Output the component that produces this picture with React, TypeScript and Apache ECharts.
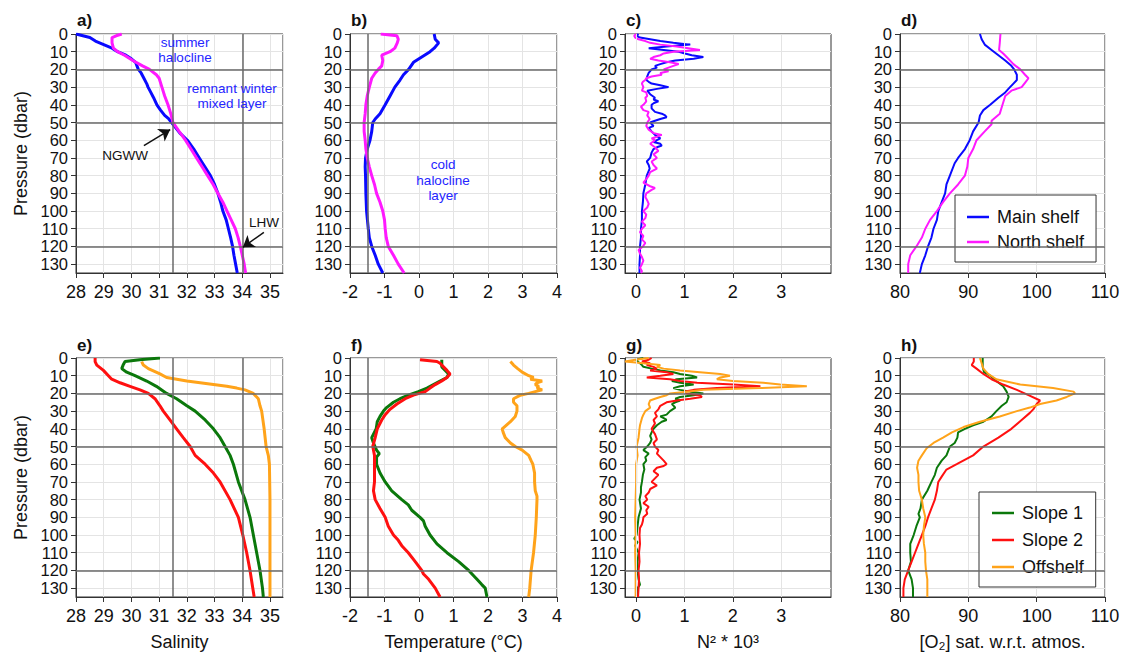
import React, { useEffect, useRef } from 'react';
import * as echarts from 'echarts';

type Pt = [number, number]; // [value, pressure]

// ---------- Top row: Main shelf / North shelf ----------
const salMain: Pt[] = [[28.0,0],[28.5,2],[28.7,4],[29.0,6],[29.3,8],[29.5,10],[29.8,12],[30.0,14],[30.15,16],[30.2,18],[30.25,20],[30.35,22],[30.45,25],[30.55,28],[30.6,30],[30.7,33],[30.8,36],[30.92,40],[31.05,43],[31.2,46],[31.35,48],[31.45,50],[31.6,53],[31.75,56],[32.02,60],[32.25,65],[32.45,70],[32.65,75],[32.85,80],[33.0,85],[33.12,90],[33.22,95],[33.3,100],[33.42,105],[33.5,110],[33.58,115],[33.65,120],[33.7,125],[33.76,130],[33.82,135]];
const salNorth: Pt[] = [[29.65,0],[29.45,1],[29.3,2],[29.3,5],[29.35,8],[29.5,10],[29.75,12],[30.05,15],[30.4,18],[30.65,20],[30.9,23],[31.0,25],[31.1,30],[31.2,35],[31.32,40],[31.42,45],[31.5,50],[31.72,55],[31.95,60],[32.15,65],[32.35,70],[32.55,75],[32.75,80],[32.95,85],[33.12,90],[33.3,95],[33.45,100],[33.6,105],[33.75,110],[33.85,115],[33.93,120],[34.0,125],[34.07,130],[34.12,135]];

const tempMain: Pt[] = [[0.44,0],[0.47,3],[0.57,5],[0.44,8],[0.32,10],[0.08,13],[-0.16,16],[-0.3,20],[-0.45,23],[-0.55,26],[-0.7,30],[-0.84,35],[-0.98,40],[-1.13,45],[-1.27,48],[-1.34,50],[-1.37,55],[-1.42,60],[-1.5,65],[-1.55,70],[-1.56,75],[-1.55,80],[-1.54,90],[-1.52,100],[-1.47,110],[-1.44,115],[-1.37,120],[-1.27,125],[-1.18,130],[-1.05,135]];
const tempNorth: Pt[] = [[-1.11,0],[-0.64,1],[-0.6,3],[-0.63,5],[-0.7,8],[-0.84,10],[-1.08,12],[-1.05,15],[-1.08,18],[-1.18,20],[-1.27,22],[-1.37,25],[-1.44,30],[-1.5,35],[-1.54,40],[-1.56,45],[-1.59,50],[-1.59,55],[-1.56,60],[-1.54,65],[-1.5,70],[-1.44,75],[-1.37,80],[-1.29,85],[-1.23,90],[-1.13,95],[-1.05,100],[-1.0,105],[-0.98,110],[-0.95,115],[-0.89,120],[-0.74,125],[-0.6,130],[-0.43,135]];

const n2Main: Pt[] = [[0.05,0],[0.01,1],[0.08,2],[0.29,3],[0.5,4],[0.77,5],[1.12,6],[0.63,7],[0.26,8],[0.57,9],[0.88,10],[1.01,11],[1.15,12],[1.39,13],[1.19,14],[0.81,15],[0.63,16],[0.5,17],[0.39,18],[0.43,19],[0.32,20],[0.26,22],[0.23,24],[0.21,26],[0.26,27],[0.32,28],[0.5,29],[0.67,30],[0.43,31],[0.23,32],[0.29,34],[0.39,36],[0.36,37],[0.46,38],[0.37,39],[0.32,40],[0.32,42],[0.39,44],[0.53,45],[0.6,46],[0.63,47],[0.5,48],[0.39,49],[0.29,50],[0.36,52],[0.26,53],[0.32,55],[0.39,57],[0.5,59],[0.43,60],[0.36,61],[0.5,62],[0.53,63],[0.43,64],[0.36,65],[0.32,67],[0.29,70],[0.22,72],[0.26,74],[0.28,76],[0.22,80],[0.19,85],[0.15,90],[0.14,95],[0.12,100],[0.12,105],[0.1,110],[0.1,115],[0.08,120],[0.08,125],[0.07,130],[0.07,135]];
const n2North: Pt[] = [[0.0,0],[-0.04,1],[-0.02,2],[0.05,3],[0.19,4],[0.29,5],[0.5,6],[0.84,7],[1.08,8],[1.32,9],[0.77,10],[0.57,11],[0.5,12],[0.36,13],[0.29,14],[0.46,15],[0.7,16],[0.88,17],[0.77,18],[0.67,19],[0.57,20],[0.67,21],[0.5,22],[0.53,23],[0.32,24],[0.21,25],[0.19,26],[0.14,27],[0.12,28],[0.15,30],[0.12,32],[0.21,33],[0.23,35],[0.19,36],[0.21,38],[0.15,40],[0.1,41],[0.15,43],[0.26,44],[0.23,46],[0.28,48],[0.23,50],[0.21,52],[0.26,54],[0.36,56],[0.53,57],[0.43,58],[0.32,59],[0.39,60],[0.29,62],[0.39,64],[0.46,66],[0.36,68],[0.43,70],[0.32,72],[0.36,74],[0.43,76],[0.29,78],[0.26,80],[0.21,82],[0.15,84],[0.29,86],[0.39,87],[0.32,88],[0.21,90],[0.19,92],[0.23,94],[0.26,96],[0.23,98],[0.15,100],[0.21,102],[0.19,104],[0.12,106],[0.19,108],[0.12,110],[0.08,112],[0.15,114],[0.12,116],[0.19,118],[0.14,120],[0.05,122],[0.08,124],[0.12,126],[0.15,128],[0.12,130],[0.08,132],[0.12,134],[0.1,135]];

const o2Main: Pt[] = [[91.7,0],[91.95,3],[92.4,6],[93.4,9],[94.4,12],[95.4,15],[96.3,18],[96.7,20],[97.1,23],[97.1,26],[96.6,28],[96.1,30],[95.4,33],[94.4,36],[93.2,40],[92.2,43],[91.7,46],[91.5,50],[90.7,55],[90.2,60],[89.5,65],[88.5,70],[88.0,73],[87.3,80],[86.8,85],[86.6,90],[86.1,95],[85.6,100],[85.4,105],[84.9,110],[84.6,115],[84.1,120],[83.7,125],[83.2,130],[82.9,135]];
const o2North: Pt[] = [[94.7,0],[94.6,5],[94.5,9],[95.1,11],[95.85,14],[96.6,17],[97.6,20],[98.3,23],[98.8,25],[98.4,27],[97.8,30],[96.3,32],[95.4,35],[95.0,40],[94.6,45],[93.7,48],[93.4,49],[93.4,51],[92.4,55],[91.2,60],[90.7,65],[90.0,70],[89.85,75],[89.5,80],[88.5,85],[87.3,90],[86.3,95],[85.4,100],[84.4,105],[83.7,110],[83.2,115],[82.4,120],[81.5,125],[81.2,130],[81.2,135]];

// ---------- Bottom row: Slope 1 / Slope 2 / Offshelf ----------
const salS1: Pt[] = [[31.03,0],[30.3,1],[29.77,2],[29.7,4],[29.65,6],[29.83,8],[30.13,10],[30.55,13],[30.9,16],[31.27,20],[31.63,23],[32.0,27],[32.3,30],[32.66,35],[32.96,40],[33.2,45],[33.38,50],[33.56,55],[33.68,60],[33.86,70],[34.1,80],[34.28,90],[34.4,100],[34.52,110],[34.64,120],[34.73,130],[34.76,135]];
const salS2: Pt[] = [[28.69,0],[28.69,2],[28.75,4],[28.99,7],[29.17,10],[29.29,12],[29.59,14],[29.95,16],[30.31,18],[30.61,20],[30.85,23],[31.03,27],[31.15,30],[31.39,35],[31.63,40],[31.87,45],[32.12,50],[32.3,55],[32.66,60],[32.96,65],[33.2,70],[33.56,80],[33.86,90],[34.02,100],[34.16,110],[34.28,120],[34.38,130],[34.43,135]];
const salOff: Pt[] = [[30.37,2],[30.43,4],[30.61,6],[31.03,9],[31.27,11],[32.0,13],[32.96,15],[33.44,16],[33.8,17],[34.1,18],[34.4,20],[34.58,23],[34.64,27],[34.7,30],[34.79,40],[34.86,50],[34.94,55],[34.98,60],[35.0,80],[35.0,100],[35.0,135]];

const tempS1: Pt[] = [[0.66,1],[0.66,3],[0.66,5],[0.76,7],[0.86,9],[0.81,11],[0.61,13],[0.42,15],[0.23,17],[-0.02,19],[-0.31,21],[-0.55,23],[-0.74,25],[-0.94,28],[-1.03,30],[-1.13,33],[-1.21,36],[-1.24,40],[-1.32,43],[-1.37,45],[-1.32,48],[-1.23,52],[-1.15,54],[-1.23,56],[-1.23,60],[-1.13,65],[-0.98,70],[-0.79,75],[-0.5,80],[-0.31,83],[-0.21,86],[0.03,90],[0.13,92],[0.18,95],[0.32,100],[0.52,105],[0.81,110],[1.15,115],[1.44,120],[1.68,125],[1.82,128],[1.92,130],[1.97,135]];
const tempS2: Pt[] = [[0.03,1],[0.52,2],[0.61,3],[0.71,5],[0.81,7],[0.9,9],[0.81,11],[0.66,13],[0.47,15],[0.32,17],[0.18,19],[-0.16,21],[-0.4,23],[-0.64,26],[-0.84,29],[-0.98,32],[-1.08,35],[-1.21,40],[-1.27,45],[-1.34,50],[-1.29,55],[-1.29,60],[-1.29,70],[-1.32,75],[-1.27,80],[-1.13,85],[-0.98,90],[-0.89,95],[-0.74,100],[-0.6,103],[-0.5,106],[-0.31,110],[-0.11,115],[0.08,120],[0.13,122],[0.28,125],[0.47,130],[0.61,135]];
const tempOff: Pt[] = [[2.65,2],[2.74,4],[2.86,6],[2.99,8],[3.18,10],[3.32,11],[3.23,12],[3.57,13],[3.42,14],[3.37,15],[3.47,16],[3.42,17],[3.57,18],[3.37,19],[3.18,20],[2.94,21],[2.74,23],[2.74,25],[2.84,27],[2.84,30],[2.79,33],[2.65,36],[2.47,39],[2.41,40],[2.44,42],[2.5,45],[2.65,48],[2.79,50],[2.99,52],[3.18,55],[3.25,58],[3.3,60],[3.35,65],[3.35,70],[3.37,75],[3.42,78],[3.42,80],[3.4,90],[3.37,100],[3.32,110],[3.25,120],[3.21,130],[3.18,135]];

const n2S1: Pt[] = [[0.15,0],[0.0,1],[0.03,2],[0.08,3],[0.12,4],[0.15,5],[0.32,6],[0.5,7],[0.77,8],[0.91,9],[1.15,10],[1.26,11],[0.84,12],[0.74,13],[0.91,14],[1.19,15],[0.91,16],[0.77,17],[0.91,18],[1.12,19],[1.39,20],[1.19,21],[0.91,22],[0.81,23],[0.91,24],[0.81,25],[0.74,26],[0.81,28],[0.7,30],[0.63,32],[0.5,33],[0.57,34],[0.63,35],[0.53,36],[0.43,38],[0.36,40],[0.32,42],[0.29,44],[0.32,46],[0.29,48],[0.23,50],[0.15,52],[0.26,54],[0.19,56],[0.21,58],[0.15,60],[0.17,63],[0.14,66],[0.12,70],[0.1,73],[0.1,76],[0.07,80],[0.1,85],[0.05,90],[0.03,95],[0.01,100],[-0.04,102],[0.03,104],[-0.02,106],[0.05,110],[0.03,115],[0.03,120],[0.05,125],[0.08,128],[0.03,130],[0.03,135]];
const n2S2: Pt[] = [[0.32,0],[0.26,1],[0.12,2],[0.29,3],[0.22,4],[0.36,5],[0.43,6],[0.29,7],[0.63,8],[0.77,9],[0.5,10],[0.22,11],[0.7,12],[0.91,13],[1.26,14],[2.01,15],[2.57,16],[1.67,17],[1.19,18],[0.98,19],[1.05,20],[1.32,21],[1.36,22],[1.12,23],[0.84,24],[0.63,25],[0.5,27],[0.46,29],[0.39,31],[0.43,33],[0.36,35],[0.39,37],[0.32,40],[0.39,43],[0.43,46],[0.36,48],[0.39,50],[0.46,52],[0.43,54],[0.5,56],[0.57,58],[0.63,60],[0.57,61],[0.43,62],[0.36,64],[0.46,66],[0.39,68],[0.32,70],[0.43,72],[0.29,74],[0.26,76],[0.19,78],[0.23,80],[0.15,82],[0.26,84],[0.21,86],[0.23,88],[0.15,90],[0.14,92],[0.12,94],[0.08,96],[0.07,100],[0.08,105],[0.06,110],[0.07,115],[0.05,120],[0.06,125],[0.05,130],[0.04,135]];
const n2Off: Pt[] = [[0.26,0],[-0.02,1],[-0.23,2],[0.15,3],[0.5,4],[0.43,5],[0.57,6],[0.91,7],[1.32,8],[1.74,9],[1.94,10],[1.74,11],[1.67,12],[2.0,13],[2.63,14],[2.98,15],[3.53,16],[2.57,17],[1.39,18],[1.05,19],[0.7,20],[0.63,21],[0.5,22],[0.39,23],[0.29,24],[0.26,26],[0.29,28],[0.19,30],[0.15,32],[0.12,34],[0.1,36],[0.08,38],[0.07,40],[0.05,45],[0.01,50],[0.03,55],[0.0,60],[0.0,70],[-0.01,80],[-0.02,90],[-0.01,100],[-0.02,110],[-0.01,120],[-0.01,130],[-0.01,135]];

const o2S1: Pt[] = [[92.1,0],[92.1,2],[92.1,5],[92.3,8],[93.2,10],[94.1,13],[95.1,16],[95.6,19],[95.9,22],[95.6,25],[94.9,27],[94.1,30],[93.4,33],[92.2,36],[90.7,38],[89.5,40],[88.5,42],[88.4,45],[88.0,48],[87.3,50],[86.8,55],[86.1,58],[85.4,62],[85.1,66],[84.6,70],[84.0,75],[83.2,80],[83.0,85],[82.7,88],[82.9,90],[82.4,95],[82.0,100],[81.5,105],[81.5,110],[81.6,115],[81.2,120],[81.7,125],[81.9,130],[81.9,135]];
const o2S2: Pt[] = [[90.8,0],[90.8,2],[90.5,4],[91.2,6],[92.2,9],[93.4,12],[95.1,15],[97.1,18],[98.8,21],[100.5,24],[100.0,26],[99.5,29],[99.0,31],[97.8,35],[96.3,40],[94.4,45],[92.2,50],[90.7,55],[88.3,60],[86.8,63],[86.1,67],[85.6,70],[85.4,75],[85.1,80],[84.6,85],[84.1,90],[83.7,95],[83.2,100],[82.7,105],[82.2,110],[81.7,115],[81.2,120],[80.7,125],[80.5,130],[80.5,135]];
const o2Off: Pt[] = [[91.7,0],[91.95,3],[92.2,6],[92.9,9],[94.1,12],[97.6,15],[102.4,17],[105.4,19],[105.6,20],[104.4,22],[102.9,24],[100.5,26],[99.0,28],[97.1,30],[94.6,33],[91.7,36],[89.3,39],[87.6,42],[86.3,45],[84.9,48],[83.9,51],[83.2,55],[82.7,58],[82.5,62],[82.7,66],[82.7,70],[82.8,75],[83.2,80],[83.4,85],[83.7,90],[83.5,95],[83.4,100],[83.5,105],[83.7,110],[83.7,115],[83.8,120],[84.0,125],[84.0,130],[84.0,135]];

// ---------- Axis / label settings ----------
const panelLabels = ['a)', 'b)', 'c)', 'd)', 'e)', 'f)', 'g)', 'h)'];
const xNames = ['Salinity', 'Temperature (°C)', 'N² * 10³', '[O₂] sat. w.r.t. atmos.'];
const n2Ticks = [0, 1, 2, 3];
const refPressures = [20, 50, 120];
const legendTop = ['Main shelf', 'North shelf'];
const legendBottom = ['Slope 1', 'Slope 2', 'Offshelf'];

const FONT = 'Liberation Sans, Arial, Helvetica, sans-serif';
const BLUE = '#0a0aff';
const MAGENTA = '#ff19ff';
const GREEN = '#0b780b';
const RED = '#ff1010';
const ORANGE = '#ffa31a';
const GRID_LIGHT = '#e4e4e4';
const REF = '#6a6a6a';

function buildOption(): any {
  const lefts = [76, 350, 625, 900];
  const widths = [207, 207, 206, 205];
  const tops = [34, 358];
  const H = 239;

  const colCfg = [
    { min: 28, max: 35.47, interval: 1, vlines: [31.5, 34] },
    { min: -2, max: 4, interval: 1, vlines: [-1.5] },
    { min: -0.23, max: 4.03, custom: n2Ticks, vlines: [] as number[] },
    { min: 80, max: 110, interval: 10, vlines: [] as number[] },
  ];

  const grid: any[] = [];
  const xAxis: any[] = [];
  const yAxis: any[] = [];
  const series: any[] = [];

  const intLabel = (v: number) => (Math.abs(v - Math.round(v)) < 1e-6 ? String(Math.round(v)) : '');

  for (let r = 0; r < 2; r++) {
    for (let c = 0; c < 4; c++) {
      const i = r * 4 + c;
      const cfg = colCfg[c];
      grid.push({
        left: lefts[c], top: tops[r], width: widths[c], height: H,
        containLabel: false, outerBoundsMode: 'none',
        show: true, borderColor: '#333', borderWidth: 1,
      });
      const xa: any = {
        gridIndex: i, type: 'value', min: cfg.min, max: cfg.max,
        axisLine: { show: true, onZero: false, lineStyle: { color: '#333', width: 1 } },
        axisTick: { show: true, length: 5, lineStyle: { color: '#333' } },
        axisLabel: { fontSize: 18, color: '#111', fontFamily: FONT, margin: 10, formatter: intLabel, showMinLabel: true, hideOverlap: false },
        splitLine: { show: true, lineStyle: { color: GRID_LIGHT, width: 1 } },
      };
      if (cfg.custom) {
        xa.axisLabel.customValues = cfg.custom;
        xa.axisTick.customValues = cfg.custom;
        xa.splitLine = { show: false };
      } else {
        xa.interval = cfg.interval;
        xa.axisLabel.showMaxLabel = Number.isInteger(cfg.max);
      }
      if (r === 1) {
        xa.name = xNames[c];
        xa.nameLocation = 'middle';
        xa.nameGap = 36;
        xa.nameTextStyle = { fontSize: 18, color: '#111', fontFamily: FONT };
      }
      xAxis.push(xa);

      const ya: any = {
        gridIndex: i, type: 'value', inverse: true, min: 0, max: 135, interval: 10,
        axisLine: { show: true, onZero: false, lineStyle: { color: '#333', width: 1 } },
        axisTick: { show: true, length: 5, lineStyle: { color: '#333' } },
        axisLabel: { fontSize: 16.5, color: '#111', fontFamily: FONT, margin: 8, lineHeight: 16, hideOverlap: false,
          formatter: (v: number) => (v % 10 === 0 ? String(v) : ''), showMinLabel: true, showMaxLabel: false },
        splitLine: { show: true, lineStyle: { color: GRID_LIGHT, width: 1 } },
      };
      if (c === 0) {
        ya.name = 'Pressure (dbar)';
        ya.nameLocation = 'middle';
        ya.nameRotate = 90;
        ya.nameGap = 46;
        ya.nameTextStyle = { fontSize: 18, color: '#111', fontFamily: FONT };
      }
      yAxis.push(ya);

      // reference lines (and custom light grid for N² panels) behind the data
      const mlData: any[] = [];
      if (cfg.custom) {
        cfg.custom.forEach((v) => mlData.push({ xAxis: v, lineStyle: { color: GRID_LIGHT, width: 1, type: 'solid' } }));
      }
      refPressures.forEach((p) => mlData.push({ yAxis: p, lineStyle: { color: REF, width: 1.5, type: 'solid' } }));
      cfg.vlines.forEach((v) => mlData.push({ xAxis: v, lineStyle: { color: REF, width: 1.5, type: 'solid' } }));
      series.push({
        type: 'line', name: '_ref' + i, xAxisIndex: i, yAxisIndex: i, data: [], z: 1, silent: true,
        markLine: { silent: true, symbol: ['none', 'none'], label: { show: false }, animation: false, data: mlData },
      });
    }
  }

  const addLine = (idx: number, name: string, color: string, data: Pt[], width: number) => {
    series.push({
      type: 'line', name, xAxisIndex: idx, yAxisIndex: idx, data, z: 3,
      symbol: 'none', showSymbol: false, smooth: false, clip: true,
      lineStyle: { color, width }, itemStyle: { color },
      emphasis: { disabled: true },
    });
  };

  addLine(0, 'Main shelf', BLUE, salMain, 3);
  addLine(0, 'North shelf', MAGENTA, salNorth, 3);
  addLine(1, 'Main shelf', BLUE, tempMain, 3);
  addLine(1, 'North shelf', MAGENTA, tempNorth, 3);
  addLine(2, 'Main shelf', BLUE, n2Main, 2);
  addLine(2, 'North shelf', MAGENTA, n2North, 2);
  addLine(3, 'Main shelf', BLUE, o2Main, 2);
  addLine(3, 'North shelf', MAGENTA, o2North, 2);

  addLine(4, 'Slope 1', GREEN, salS1, 3);
  addLine(4, 'Slope 2', RED, salS2, 3);
  addLine(4, 'Offshelf', ORANGE, salOff, 3);
  addLine(5, 'Slope 1', GREEN, tempS1, 3);
  addLine(5, 'Slope 2', RED, tempS2, 3);
  addLine(5, 'Offshelf', ORANGE, tempOff, 3);
  addLine(6, 'Slope 1', GREEN, n2S1, 2);
  addLine(6, 'Slope 2', RED, n2S2, 2);
  addLine(6, 'Offshelf', ORANGE, n2Off, 2);
  addLine(7, 'Slope 1', GREEN, o2S1, 2);
  addLine(7, 'Slope 2', RED, o2S2, 2);
  addLine(7, 'Offshelf', ORANGE, o2Off, 2);

  // arrows in panel a (data coordinates)
  series.push({
    type: 'line', name: '_arrows', xAxisIndex: 0, yAxisIndex: 0, data: [], z: 4, silent: true,
    markLine: {
      silent: true, symbol: ['none', 'arrow'], symbolSize: 11, label: { show: false }, animation: false,
      lineStyle: { color: '#111', width: 1.5, type: 'solid' },
      data: [
        [{ coord: [30.45, 63] }, { coord: [31.4, 54] }],
        [{ coord: [34.78, 112] }, { coord: [34.02, 120.5] }],
      ],
    },
  });

  const legendCommon = {
    orient: 'vertical', backgroundColor: '#fff', borderColor: '#333', borderWidth: 1,
    icon: 'rect', itemWidth: 22, itemHeight: 2.5, selectedMode: false,
    textStyle: { fontSize: 18, lineHeight: 18, color: '#111', fontFamily: FONT, padding: [0, 0, 0, 3] },
  };
  const legend = [
    { ...legendCommon, data: legendTop, left: 955, top: 195, itemGap: 7, padding: [13, 12, 11, 12] },
    { ...legendCommon, data: legendBottom, left: 979, top: 492, itemGap: 9, padding: [12, 12, 11, 13] },
  ];

  const labelPos = [[77, 20], [351, 20], [626, 20], [901, 20], [77, 345], [351, 345], [626, 345], [901, 345]];
  const graphic: any[] = labelPos.map(([x, y], i) => ({
    type: 'text', x, y, silent: true,
    style: { text: panelLabels[i], fill: '#111', font: `bold 17px ${FONT}`, textAlign: 'left', textVerticalAlign: 'middle' },
  }));
  const annot = (text: string, x: number, y: number, fill: string) => ({
    type: 'text', x, y, silent: true, z: 10,
    style: { text, fill, font: `13.5px ${FONT}`, textAlign: 'center', textVerticalAlign: 'middle', lineHeight: 15.5 },
  });
  graphic.push(annot('summer\nhalocline', 185, 50, '#2525ff'));
  graphic.push(annot('remnant winter\nmixed layer', 232, 96, '#2525ff'));
  graphic.push(annot('NGWW', 125, 155, '#111'));
  graphic.push(annot('LHW', 264, 222, '#111'));
  graphic.push(annot('cold\nhalocline\nlayer', 443, 180, '#2525ff'));

  return {
    animation: false,
    backgroundColor: '#fff',
    textStyle: { fontFamily: FONT },
    grid, xAxis, yAxis, series, legend, graphic,
  };
}

export default function App() {
  const ref = useRef<HTMLDivElement>(null);
  useEffect(() => {
    document.body.style.margin = '0';
    const chart = echarts.init(ref.current as HTMLDivElement, null, { renderer: 'svg' });
    chart.setOption(buildOption());
    return () => chart.dispose();
  }, []);
  return <div ref={ref} style={{ width: 1121, height: 652 }} />;
}
